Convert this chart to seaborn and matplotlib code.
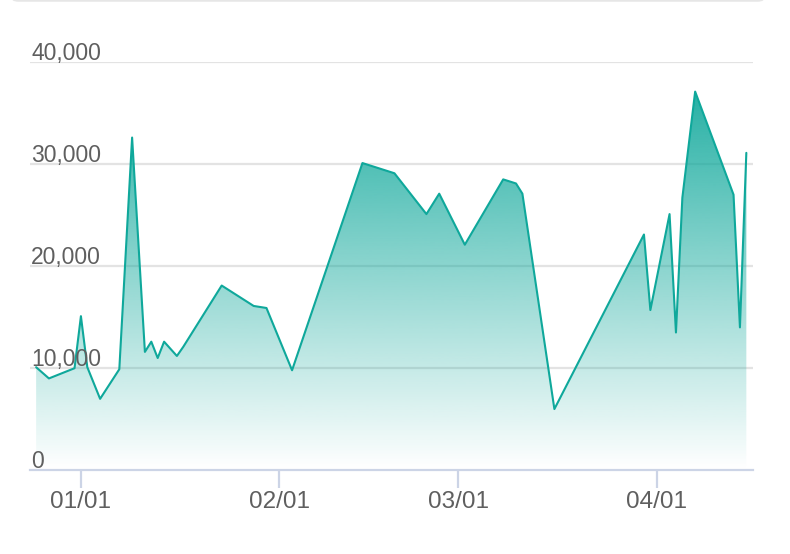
import matplotlib
matplotlib.use("Agg")
import matplotlib.pyplot as plt
import matplotlib.dates as mdates
from matplotlib.patches import FancyBboxPatch, Polygon
from matplotlib.transforms import ScaledTranslation
import seaborn as sns
import pandas as pd
import numpy as np

dates = ["2022-12-25", "2022-12-27", "2022-12-31", "2023-01-01", "2023-01-02",
         "2023-01-04", "2023-01-07", "2023-01-09", "2023-01-11", "2023-01-12",
         "2023-01-13", "2023-01-14", "2023-01-16", "2023-01-17", "2023-01-23",
         "2023-01-28", "2023-01-30", "2023-02-03", "2023-02-14", "2023-02-19",
         "2023-02-24", "2023-02-26", "2023-03-02", "2023-03-08", "2023-03-10",
         "2023-03-11", "2023-03-16", "2023-03-30", "2023-03-31", "2023-04-03",
         "2023-04-04", "2023-04-05", "2023-04-07", "2023-04-13", "2023-04-14",
         "2023-04-15"]
values = [10100, 9000, 10000, 15100, 10100, 7000, 9900, 32600, 11600, 12600,
          11000, 12600, 11200, 12100, 18100, 16100, 15900, 9800, 30100, 29100,
          25100, 27100, 22100, 28500, 28100, 27100, 6000, 23100, 15700, 25100,
          13500, 26700, 37100, 27000, 14000, 31100]
y_ticks = [0, 10000, 20000, 30000, 40000]
x_ticks = ["2023-01-01", "2023-02-01", "2023-03-01", "2023-04-01"]

teal = "#0fa89b"
text_color = "#5f5f5f"
font = "Liberation Sans"

df = pd.DataFrame({"date": pd.to_datetime(dates), "value": values})

sns.set_style("white")
plt.rcParams["font.family"] = [font, "DejaVu Sans"]

fig = plt.figure(figsize=(7.9, 5.54), dpi=100)
ax = fig.add_axes([30 / 790, (554 - 470.3) / 554, 723 / 790, (470.3 - 62) / 554])

# card border peeking in at the top
fig.patches.append(FancyBboxPatch((12 / 790, 1.0), 752 / 790, 0.1,
                                  boxstyle="round,pad=0,rounding_size=0.008",
                                  transform=fig.transFigure, facecolor="white",
                                  edgecolor="#e6e6e6", linewidth=2.5, zorder=0))

sns.lineplot(data=df, x="date", y="value", color=teal, linewidth=1.5, ax=ax, zorder=4)

x0 = mdates.date2num(pd.Timestamp("2022-12-24") + pd.Timedelta(hours=1))
x1 = mdates.date2num(pd.Timestamp("2023-04-16") + pd.Timedelta(hours=1))

# gradient fill under the line
xn = mdates.date2num(df["date"])
ymax = max(values)
grad = np.zeros((256, 1, 4))
grad[:, 0, :3] = matplotlib.colors.to_rgb(teal)
grad[:, 0, 3] = np.linspace(0.9, 0.0, 256)
im = ax.imshow(grad, extent=[xn[0], xn[-1], 0, ymax], aspect="auto",
               origin="upper", zorder=3, interpolation="bicubic")
poly = Polygon(np.column_stack([np.r_[xn[0], xn, xn[-1]], np.r_[0, values, 0]]),
               closed=True, facecolor="none", edgecolor="none")
ax.add_patch(poly)
im.set_clip_path(poly)
ax.set_xlim(x0, x1)
ax.set_ylim(0, 40000)

# grid
for v in y_ticks[1:]:
    ax.axhline(v, color="#e3e3e3", linewidth=1.6, zorder=1)

for s in ["top", "right", "left"]:
    ax.spines[s].set_visible(False)
ax.spines["bottom"].set_color("#ccd4e6")
ax.spines["bottom"].set_linewidth(1.6)
ax.spines["bottom"].set_zorder(5)

ax.set_yticks([])
ax.set_xticks(mdates.date2num(pd.to_datetime(x_ticks)))
ax.set_xticklabels([pd.Timestamp(d).strftime("%m/%d") for d in x_ticks])
ax.tick_params(axis="x", length=13, width=1.6, color="#ccd4e6", pad=2,
               labelsize=17.5, labelcolor=text_color, bottom=True)
ax.set_xlabel("")
ax.set_ylabel("")

# y labels sit just above their gridlines
shift = ax.get_yaxis_transform() + ScaledTranslation(0, 1.6 / 72, fig.dpi_scale_trans)
for v in y_ticks:
    ax.text(0.0015, v, f"{v:,}", transform=shift, ha="left", va="baseline",
            fontsize=16.5, color=text_color, zorder=6)

fig.savefig("out.png", dpi=100)
